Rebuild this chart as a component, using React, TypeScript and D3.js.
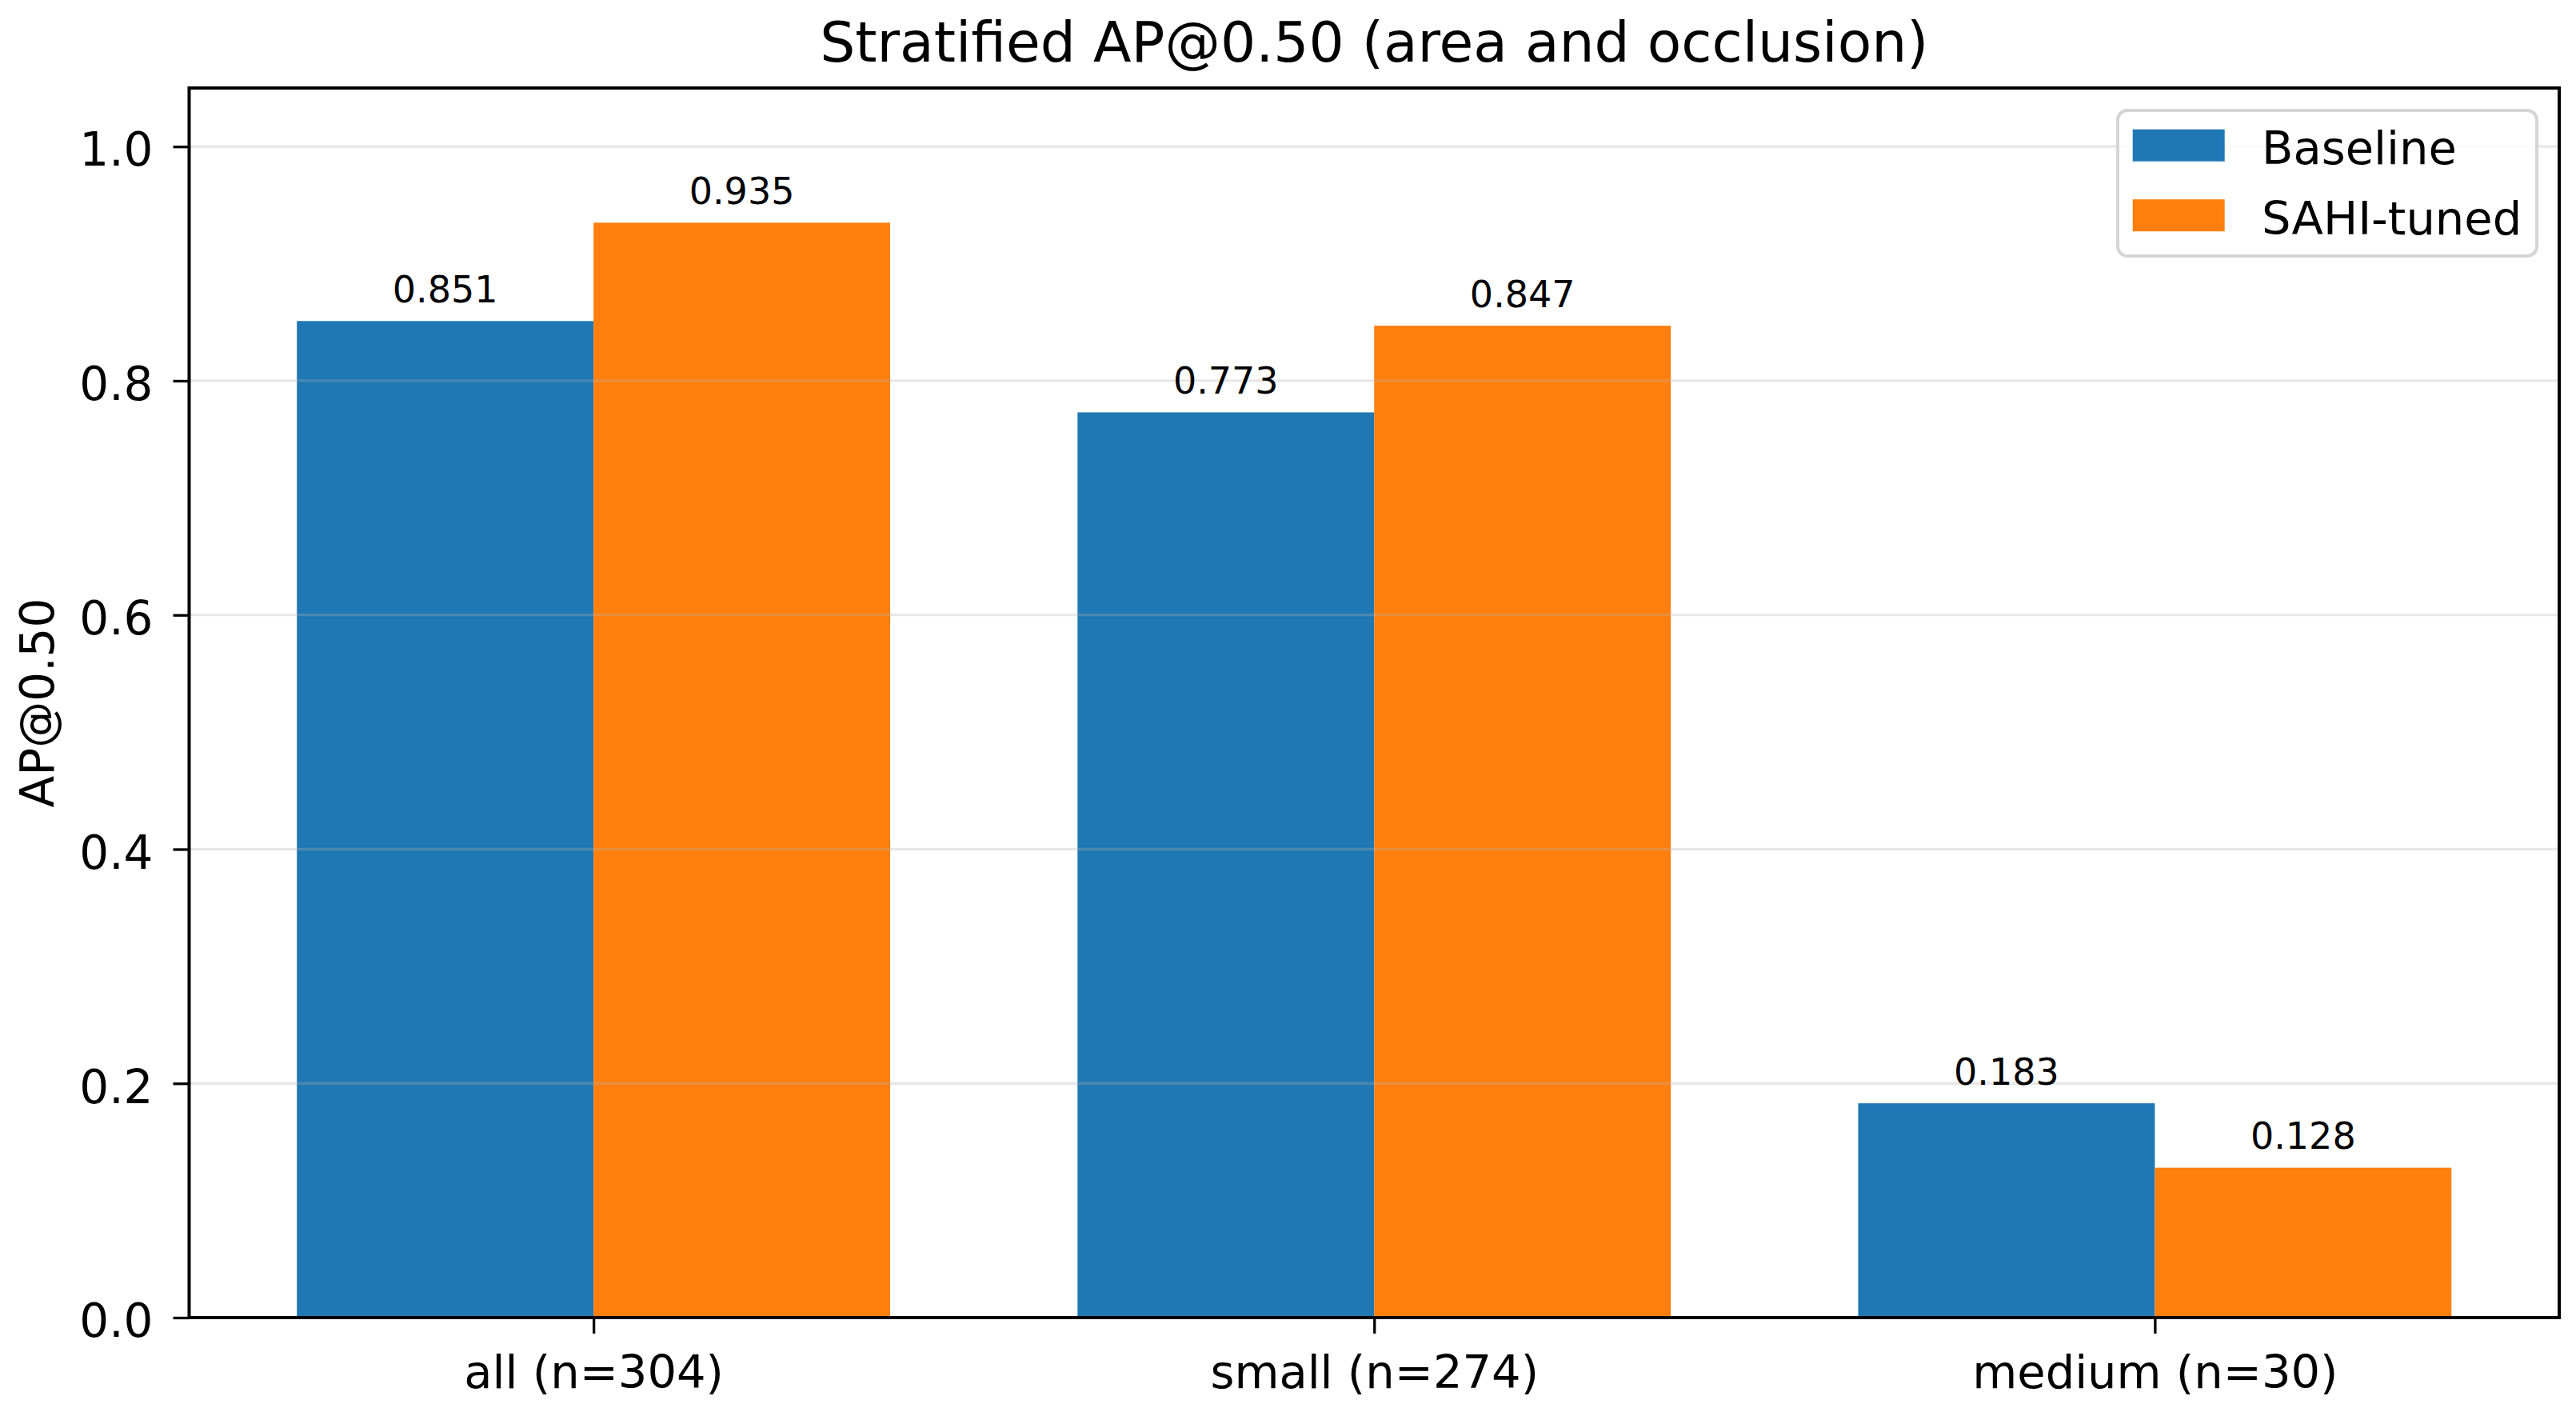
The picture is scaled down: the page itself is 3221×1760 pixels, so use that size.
import React, { useRef, useEffect } from 'react';
import * as d3 from 'd3';

const categories = ['all (n=304)', 'small (n=274)', 'medium (n=30)'];
const seriesNames = ['Baseline', 'SAHI-tuned'];
const baselineValues = [0.851, 0.773, 0.183];
const sahiValues = [0.935, 0.847, 0.128];
const yTicks = [0.0, 0.2, 0.4, 0.6, 0.8, 1.0];

const colors = ['#1f77b4', '#ff7f0e'];
const FONT = 'DejaVu Sans, sans-serif';

const App: React.FC = () => {
    const ref = useRef<SVGSVGElement | null>(null);

    useEffect(() => {
        if (!ref.current) return;
        const W = 3221;
        const H = 1760;
        const margin = { top: 110, right: 21, bottom: 113, left: 236.5 };
        const width = W - margin.left - margin.right;
        const height = H - margin.top - margin.bottom;
        const barW = 0.38;

        const root = d3.select(ref.current);
        root.selectAll('*').remove();
        root.attr('width', W).attr('height', H);

        root.append('rect').attr('width', W).attr('height', H).attr('fill', '#fff');

        const g = root.append('g').attr('transform', `translate(${margin.left},${margin.top})`);

        // x in category units, same padding as matplotlib's 5% margins
        const x = d3.scaleLinear().domain([-0.518, 2.518]).range([0, width]);
        const y = d3.scaleLinear().domain([0, 1.05]).range([height, 0]);

        const series = [baselineValues, sahiValues];

        // bars
        series.forEach((vals, si) => {
            const off = si === 0 ? -barW : 0;
            g.selectAll(`rect.bar${si}`)
                .data(vals)
                .join('rect')
                .attr('class', `bar${si}`)
                .attr('x', (_d, i) => x(i + off))
                .attr('width', x(barW) - x(0))
                .attr('y', d => y(d))
                .attr('height', d => y(0) - y(d))
                .attr('fill', colors[si]);
        });

        // grid (drawn over the bars)
        g.selectAll('line.grid')
            .data(yTicks)
            .join('line')
            .attr('class', 'grid')
            .attr('x1', 0)
            .attr('x2', width)
            .attr('y1', d => y(d))
            .attr('y2', d => y(d))
            .attr('stroke', '#b0b0b0')
            .attr('stroke-opacity', 0.3)
            .attr('stroke-width', 3.3);

        // value labels
        series.forEach((vals, si) => {
            const off = si === 0 ? -barW / 2 : barW / 2;
            g.selectAll(`text.lab${si}`)
                .data(vals)
                .join('text')
                .attr('class', `lab${si}`)
                .attr('x', (_d, i) => x(i + off))
                .attr('y', d => y(d) - 23.5)
                .attr('text-anchor', 'middle')
                .attr('font-family', FONT)
                .attr('font-size', 46)
                .attr('fill', '#000')
                .text(d => d.toFixed(3));
        });

        // axes
        const yAxis = g.append('g')
            .call(d3.axisLeft(y).tickValues(yTicks).tickFormat(d3.format('.1f')).tickSize(20).tickSizeOuter(0).tickPadding(25));
        yAxis.select('.domain').remove();
        yAxis.selectAll('line').attr('stroke', '#000').attr('stroke-width', 3.3);
        yAxis.selectAll('text')
            .attr('font-family', FONT)
            .attr('font-size', 58)
            .attr('dy', '0.41em')
            .attr('fill', '#000');

        const xAxis = g.append('g')
            .attr('transform', `translate(0,${height})`)
            .call(d3.axisBottom(x).tickValues([0, 1, 2]).tickFormat((_d, i) => categories[i]).tickSize(20).tickSizeOuter(0).tickPadding(27));
        xAxis.select('.domain').remove();
        xAxis.selectAll('line').attr('stroke', '#000').attr('stroke-width', 3.3);
        xAxis.selectAll('text')
            .attr('font-family', FONT)
            .attr('font-size', 57.5)
            .attr('fill', '#000');

        // spines
        g.append('rect')
            .attr('x', 0)
            .attr('y', 0)
            .attr('width', width)
            .attr('height', height)
            .attr('fill', 'none')
            .attr('stroke', '#000')
            .attr('stroke-width', 4);

        // title
        root.append('text')
            .attr('x', margin.left + width / 2)
            .attr('y', 76.7)
            .attr('text-anchor', 'middle')
            .attr('font-family', FONT)
            .attr('font-size', 69.5)
            .attr('fill', '#000')
            .text('Stratified AP@0.50 (area and occlusion)');

        // y label
        root.append('text')
            .attr('transform', `translate(67,${margin.top + height / 2}) rotate(-90)`)
            .attr('text-anchor', 'middle')
            .attr('font-family', FONT)
            .attr('font-size', 58)
            .attr('fill', '#000')
            .text('AP@0.50');

        // legend
        const lw = 524;
        const lh = 182;
        const legend = g.append('g').attr('transform', `translate(${width - 28 - lw},28)`);
        legend.append('rect')
            .attr('width', lw)
            .attr('height', lh)
            .attr('rx', 12)
            .attr('fill', '#fff')
            .attr('fill-opacity', 0.8)
            .attr('stroke', '#d5d5d5')
            .attr('stroke-width', 4);
        seriesNames.forEach((name, i) => {
            const row = legend.append('g').attr('transform', `translate(0,${i * 87.5})`);
            row.append('rect')
                .attr('x', 18.7)
                .attr('y', 23.7)
                .attr('width', 115)
                .attr('height', 40)
                .attr('fill', colors[i]);
            row.append('text')
                .attr('x', 180)
                .attr('y', 67)
                .attr('font-family', FONT)
                .attr('font-size', 57.5)
                .attr('fill', '#000')
                .text(name);
        });
    }, []);

    return (
        <div>
            <svg ref={ref} style={{ position: 'absolute', left: 0, top: 0, display: 'block' }} />
        </div>
    );
};

export default App;
